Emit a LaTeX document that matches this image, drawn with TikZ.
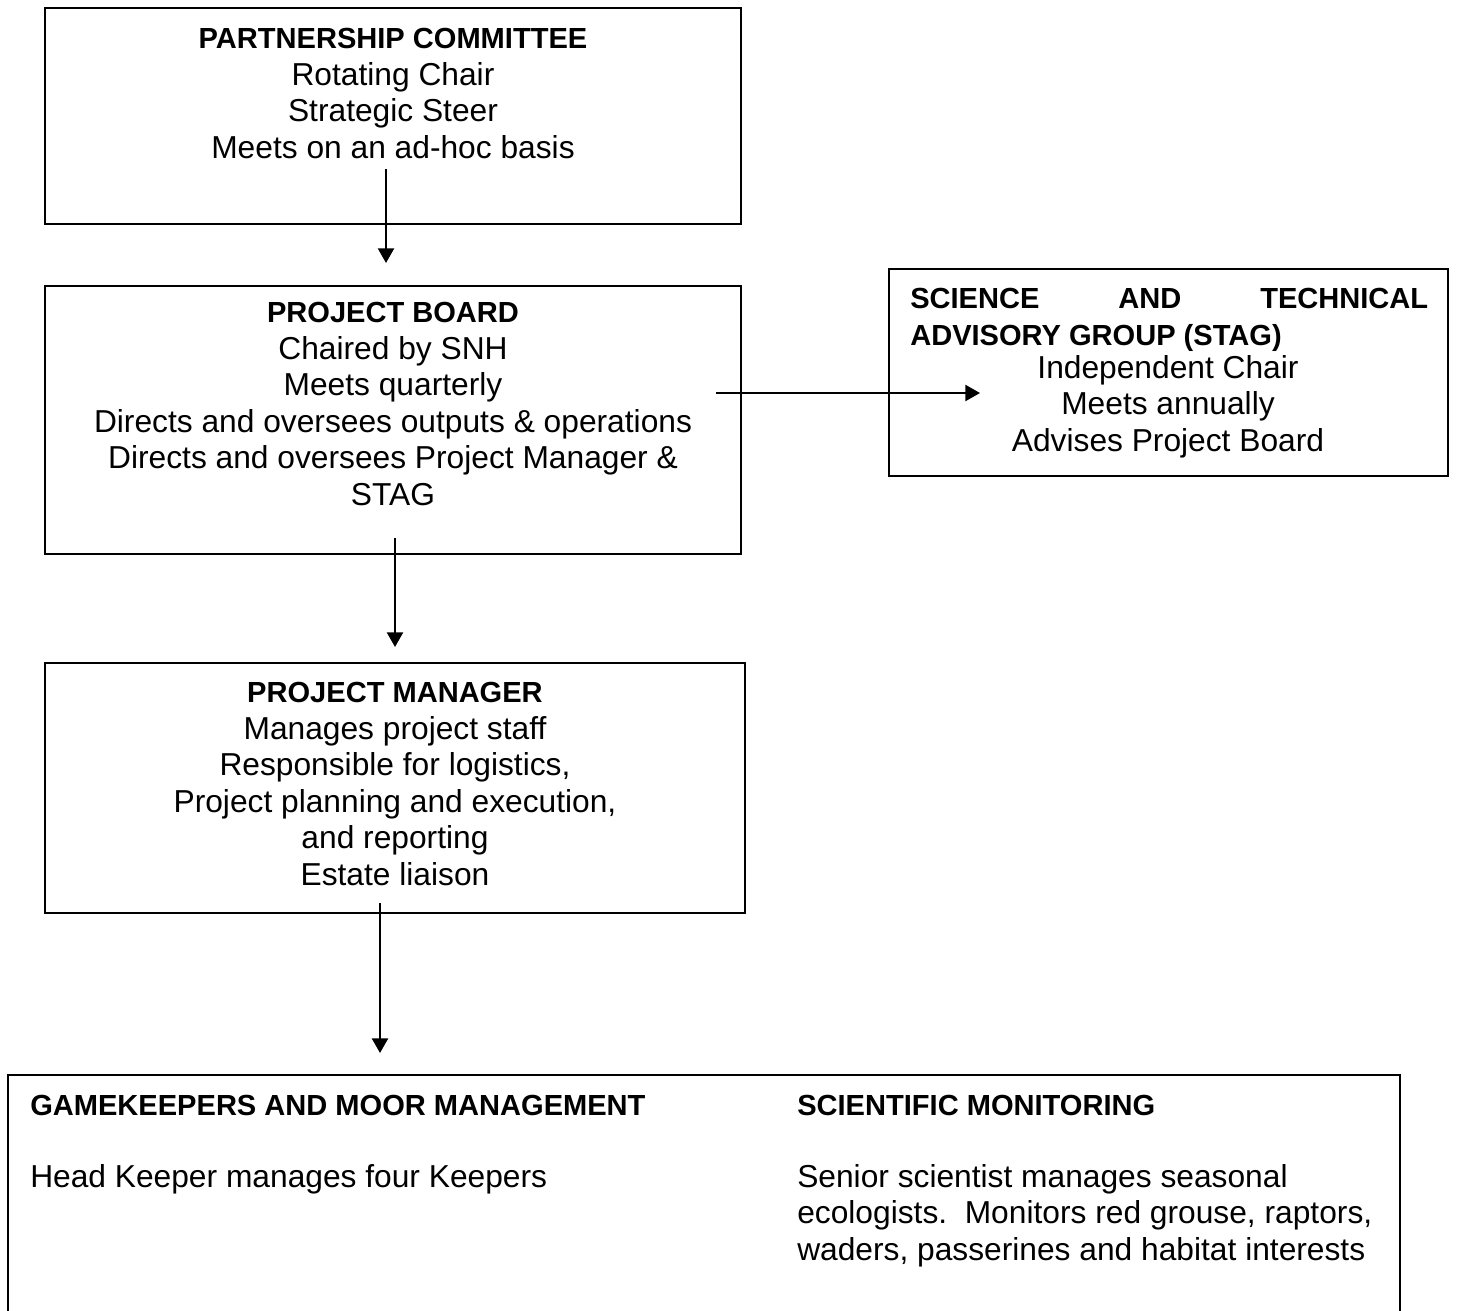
\documentclass[tikz,border=0pt]{standalone}
\usepackage{fontspec}
\setmainfont{Liberation Sans}
\usetikzlibrary{arrows.meta,fit}
\newcommand{\hd}[1]{{\fontsize{21.8}{27.4}\selectfont\bfseries #1}}
\begin{document}
\begin{tikzpicture}[x=0.75pt,y=-0.75pt,
  box/.style={draw,line width=1.5pt,inner sep=0pt,fit={#1}},
  txt/.style={inner sep=0pt,align=center,font=\fontsize{23.8}{27.4}\selectfont},
  ltxt/.style={inner sep=0pt,align=left,font=\fontsize{23.8}{27.4}\selectfont},
  arr/.style={line width=1.7pt,-{Triangle[length=11pt,width=12pt]}}]
\useasboundingbox (0,0) rectangle (1458,1310);
\node[box={(45,8)(741,224)}] (pc) {};
\node[box={(45,286)(741,554)}] (pb) {};
\node[box={(889,269)(1448,476)}] (stag) {};
\node[box={(45,663)(745,913)}] (pm) {};
\node[box={(8,1075)(1400,1340)}] (gm) {};

\node[txt,anchor=north] (pct) at (393,28) {\hd{PARTNERSHIP COMMITTEE}\\Rotating Chair\\Strategic Steer\\Meets on an ad-hoc basis};
\node[txt,anchor=north] (pbt) at (393,302) {\hd{PROJECT BOARD}\\Chaired by SNH\\Meets quarterly\\Directs and oversees outputs \& operations\\Directs and oversees Project Manager \&\\STAG};
\node[ltxt,anchor=north west] (stagh) at (910,288) {\hd{\makebox[388.5pt][l]{SCIENCE\hfill AND\hfill TECHNICAL}}\\\hd{ADVISORY GROUP (STAG)}};
\node[txt,anchor=north] (stagt) at (1168,355) {Independent Chair\\Meets annually\\Advises Project Board};
\node[txt,anchor=north] (pmt) at (395,682) {\hd{PROJECT MANAGER}\\Manages project staff\\Responsible for logistics,\\Project planning and execution,\\and reporting\\Estate liaison};
\node[ltxt,anchor=north west] (gmh) at (30,1095) {\hd{GAMEKEEPERS AND MOOR MANAGEMENT}};
\node[ltxt,anchor=north west] (gmt) at (30,1164) {Head Keeper manages four Keepers};
\node[ltxt,anchor=north west] (smh) at (797,1095) {\hd{SCIENTIFIC MONITORING}};
\node[ltxt,anchor=north west] (smt) at (797,1164) {Senior scientist manages seasonal\\ecologists.\ \ Monitors red grouse, raptors,\\waders, passerines and habitat interests};

\coordinate (a1s) at (386,169);
\coordinate (a1e) at (386,263);
\coordinate (a2s) at (716,393);
\coordinate (a2e) at (980,393);
\coordinate (a3s) at (395,538);
\coordinate (a3e) at (395,647);
\coordinate (a4s) at (380,903);
\coordinate (a4e) at (380,1053);
\draw[arr] (a1s) -- (a1e);
\draw[arr] (a2s) -- (a2e);
\draw[arr] (a3s) -- (a3e);
\draw[arr] (a4s) -- (a4e);
\end{tikzpicture}
\end{document}
